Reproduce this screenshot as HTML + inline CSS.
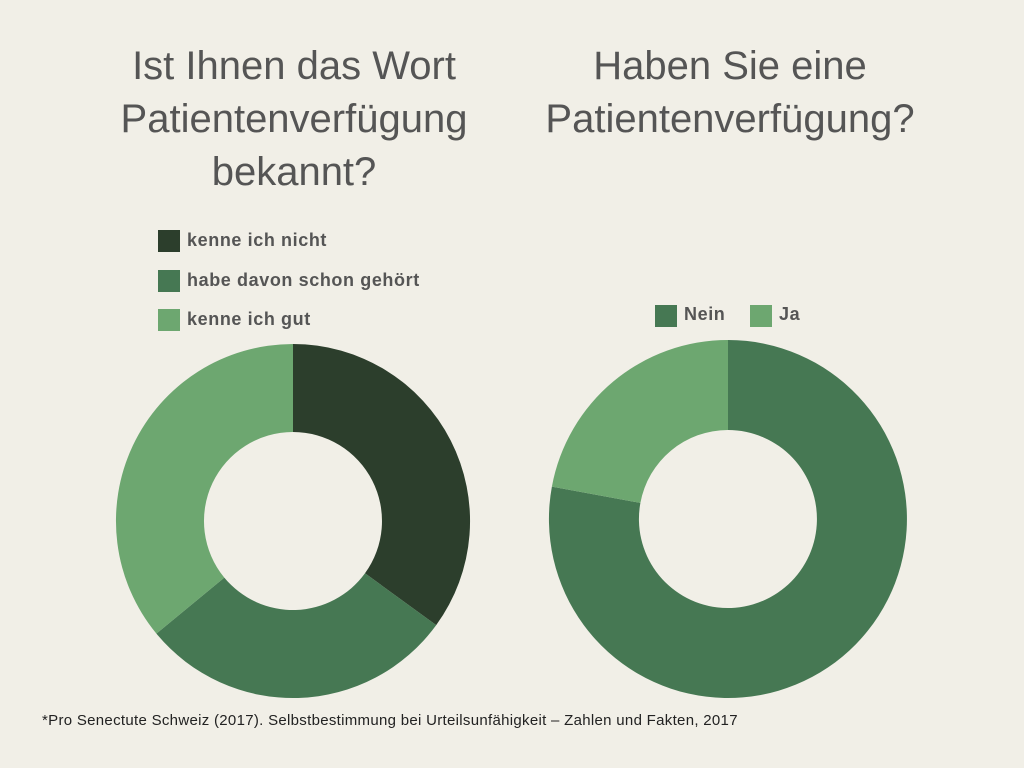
<!DOCTYPE html>
<html><head><meta charset="utf-8"><style>
body{margin:0;width:1024px;height:768px;background:#f1efe7;overflow:hidden;font-family:"Liberation Sans",sans-serif;}
.t{position:absolute;color:#555;font-size:40px;text-align:center;line-height:53px;}
.lg{position:absolute;font-weight:bold;font-size:18px;letter-spacing:0.6px;color:#555;}
.sq{position:absolute;width:22px;height:22px;}
</style></head><body>
<div class="t" style="left:74px;top:40px;width:440px;">Ist Ihnen das Wort<br>Patientenverfügung<br>bekannt?</div>
<div class="t" style="left:510px;top:40px;width:440px;">Haben Sie eine<br>Patientenverfügung?</div>
<div class="sq" style="left:158px;top:230px;background:#2c3e2c"></div><div class="lg" style="left:187px;top:230px">kenne ich nicht</div>
<div class="sq" style="left:158px;top:270px;background:#467853"></div><div class="lg" style="left:187px;top:270px">habe davon schon gehört</div>
<div class="sq" style="left:158px;top:309px;background:#6da770"></div><div class="lg" style="left:187px;top:309px">kenne ich gut</div>
<div class="sq" style="left:655px;top:305px;background:#467853"></div><div class="lg" style="left:684px;top:304px">Nein</div>
<div class="sq" style="left:750px;top:305px;background:#6da770"></div><div class="lg" style="left:779px;top:304px">Ja</div>
<svg width="1024" height="768" style="position:absolute;left:0;top:0">
<path d="M293,344 A177,177 0 0 1 436.2,625.1 L365,573.3 A89,89 0 0 0 293,432 Z" fill="#2c3e2c"/>
<path d="M436.2,625.1 A177,177 0 0 1 156.4,633.6 L224.3,577.6 A89,89 0 0 0 365,573.3 Z" fill="#467853"/>
<path d="M156.4,633.6 A177,177 0 0 1 293,344 L293,432 A89,89 0 0 0 224.3,577.6 Z" fill="#6da770"/>
<path d="M728,340 A179,179 0 1 1 551.9,486.6 L640.4,502.9 A89,89 0 1 0 728,430 Z" fill="#467853"/>
<path d="M551.9,486.6 A179,179 0 0 1 728,340 L728,430 A89,89 0 0 0 640.4,502.9 Z" fill="#6da770"/>
</svg>
<div style="position:absolute;left:42px;top:712px;font-size:15px;letter-spacing:0.3px;color:#222;">*Pro Senectute Schweiz (2017). Selbstbestimmung bei Urteilsunfähigkeit – Zahlen und Fakten, 2017</div>
</body></html>
